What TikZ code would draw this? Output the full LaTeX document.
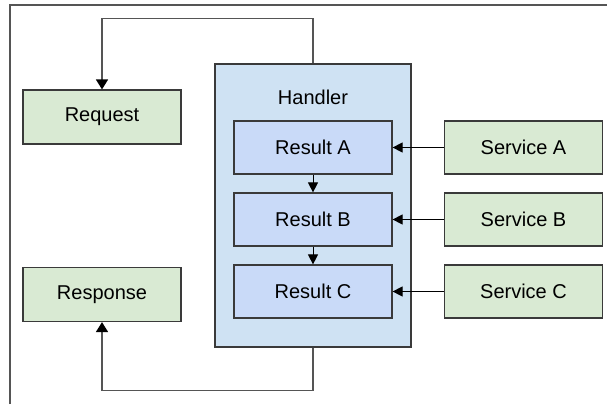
\documentclass[tikz,border=0pt]{standalone}
\usepackage{fontspec}
\setmainfont{Liberation Sans}
\usepackage{tikz}
\usetikzlibrary{arrows.meta, positioning}
\usepackage{xcolor}
\definecolor{boxgreen}{HTML}{D9EAD3}
\definecolor{boxblue}{HTML}{CFE2F3}
\definecolor{resblue}{HTML}{C9DAF8}
\definecolor{edge}{HTML}{3A3A3A}
\definecolor{wire}{HTML}{555555}

\begin{document}
\begin{tikzpicture}[
    x=1pt, y=-1pt,
    greenbox/.style = {rectangle, draw=edge, fill=boxgreen, line width=1.2pt, minimum width=158pt, minimum height=54pt, font=\fontsize{20}{24}\selectfont},
    resultbox/.style = {rectangle, draw=edge, fill=resblue, line width=1.2pt, minimum width=158pt, minimum height=53pt, font=\fontsize{20}{24}\selectfont},
    handlerbox/.style = {rectangle, draw=edge, fill=boxblue, line width=1.2pt, minimum width=196pt, minimum height=283pt},
    arrow/.style = {draw=black, line width=1pt, -{Triangle[length=10pt, width=10pt]}},
    loop/.style = {draw=wire, line width=1.6pt, -{Triangle[length=10pt, width=12pt, color=black]}},
    frame/.style = {draw=wire, line width=2pt}
]
\useasboundingbox (0,0) rectangle (607,404);

% Frame
\draw [frame] (9.5,404) -- (9.5,5.5) -- (607,5.5);

% Handler with its results
\node (b_handler) [handlerbox] at (313, 205.5) {};
\node (t_handler) [font=\fontsize{20}{24}\selectfont] at (313, 97) {Handler};
\node (b_resa) [resultbox] at (313, 147.5) {Result A};
\node (b_resb) [resultbox] at (313, 219.5) {Result B};
\node (b_resc) [resultbox] at (313, 291.5) {Result C};

% Request and response
\node (b_request) [greenbox] at (102, 117) {Request};
\node (b_response) [greenbox] at (102, 294.5) {Response};

% Services
\node (b_sera) [greenbox, minimum height=53pt] at (523.5, 147.5) {Service A};
\node (b_serb) [greenbox, minimum height=53pt] at (523.5, 219.5) {Service B};
\node (b_serc) [greenbox, minimum height=53pt] at (523.5, 291.5) {Service C};

% Connections
\draw [arrow] (b_resa) -- (b_resb);
\draw [arrow] (b_resb) -- (b_resc);
\draw [arrow] (b_sera) -- (b_resa);
\draw [arrow] (b_serb) -- (b_resb);
\draw [arrow] (b_serc) -- (b_resc);
\draw [loop] (b_handler.north) -- ++(0,-45) -| (b_request.north);
\draw [loop] (b_handler.south) -- ++(0,43) -| (b_response.south);

\end{tikzpicture}
\end{document}
